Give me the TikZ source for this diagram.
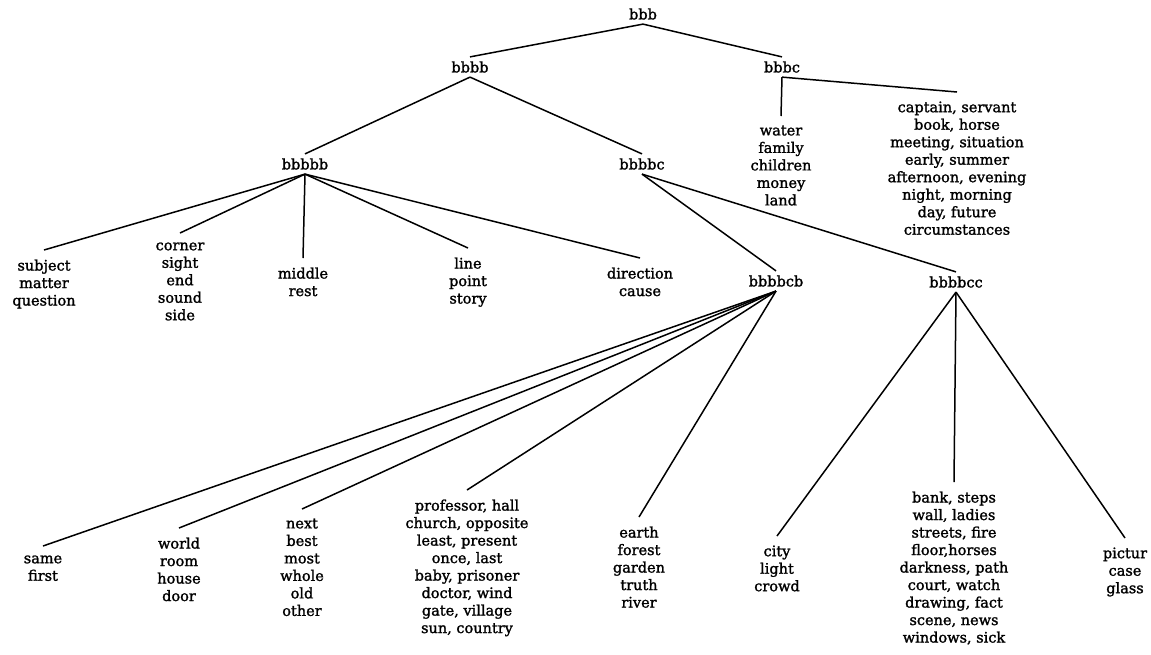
\documentclass[tikz,border=0pt]{standalone}
\usepackage{fontspec}
\setmainfont{DejaVu Serif}[BoldFont={DejaVu Serif},BoldFeatures={FakeBold=1.5}]
\begin{document}
\begin{tikzpicture}[x=1pt,y=-1pt,
  every node/.style={font=\fontsize{14.5}{17.5}\selectfont\bfseries},
  inner/.style={inner sep=3pt,outer sep=1.5pt},
  leaf/.style={align=center,anchor=north,inner xsep=2pt,inner ysep=5pt,outer sep=4.5pt,execute at begin node=\strut},
  edge/.style={line width=1.5pt}]
\useasboundingbox (0,0) rectangle (1151,654);
% internal nodes
\node[inner] (bbb) at (643,14) {bbb};
\node[inner] (bbbb) at (470,67) {bbbb};
\node[inner] (bbbc) at (782,67) {bbbc};
\node[inner] (bbbbb) at (305,164) {bbbbb};
\node[inner] (bbbbc) at (642,164) {bbbbc};
\node[inner] (bbbbcb) at (776,281) {bbbbcb};
\node[inner] (bbbbcc) at (956,282) {bbbbcc};
% leaves of bbbc
\node[leaf] (water) at (781,116) {water\\family\\children\\money\\land};
\node[leaf] (captain) at (957,92) {captain, servant\\book, horse\\meeting, situation\\early, summer\\afternoon, evening\\night, morning\\day, future\\circumstances};
% leaves of bbbbb
\node[leaf] (subject) at (44,250) {subject\\matter\\question};
\node[leaf] (corner) at (180,233) {corner\\sight\\end\\sound\\side};
\node[leaf] (middle) at (303,258) {middle\\rest};
\node[leaf] (line) at (468,248) {line\\point\\story};
\node[leaf] (direction) at (640,258) {direction\\cause};
% leaves of bbbbcb
\node[leaf] (same) at (43,546) {same\\first};
\node[leaf] (world) at (179,528) {world\\room\\house\\door};
\node[leaf] (next) at (302,509) {next\\best\\most\\whole\\old\\other};
\node[leaf] (professor) at (467,490) {professor, hall\\church, opposite\\least, present\\once, last\\baby, prisoner\\doctor, wind\\gate, village\\sun, country};
\node[leaf] (earth) at (639,517) {earth\\forest\\garden\\truth\\river};
% leaves of bbbbcc
\node[leaf] (city) at (777,536) {city\\light\\crowd};
\node[leaf] (bank) at (954,482) {bank, steps\\wall, ladies\\streets, fire\\floor,horses\\darkness, path\\court, watch\\drawing, fact\\scene, news\\windows, sick};
\node[leaf] (pictur) at (1125,538) {pictur\\case\\glass};
% connectors
\draw[edge] (bbb.south) -- (bbbb.north);
\draw[edge] (bbb.south) -- (bbbc.north);
\draw[edge] (bbbb.south) -- (bbbbb.north);
\draw[edge] (bbbb.south) -- (bbbbc.north);
\draw[edge] (bbbc.south) -- (water.north);
\draw[edge] (bbbc.south) -- (captain.north);
\foreach \c in {subject,corner,middle,line,direction}
  \draw[edge] (bbbbb.south) -- (\c.north);
\draw[edge] (bbbbc.south) -- (bbbbcb.north);
\draw[edge] (bbbbc.south) -- (bbbbcc.north);
\foreach \c in {same,world,next,professor,earth}
  \draw[edge] (bbbbcb.south) -- (\c.north);
\foreach \c in {city,bank,pictur}
  \draw[edge] (bbbbcc.south) -- (\c.north);
\end{tikzpicture}
\end{document}
